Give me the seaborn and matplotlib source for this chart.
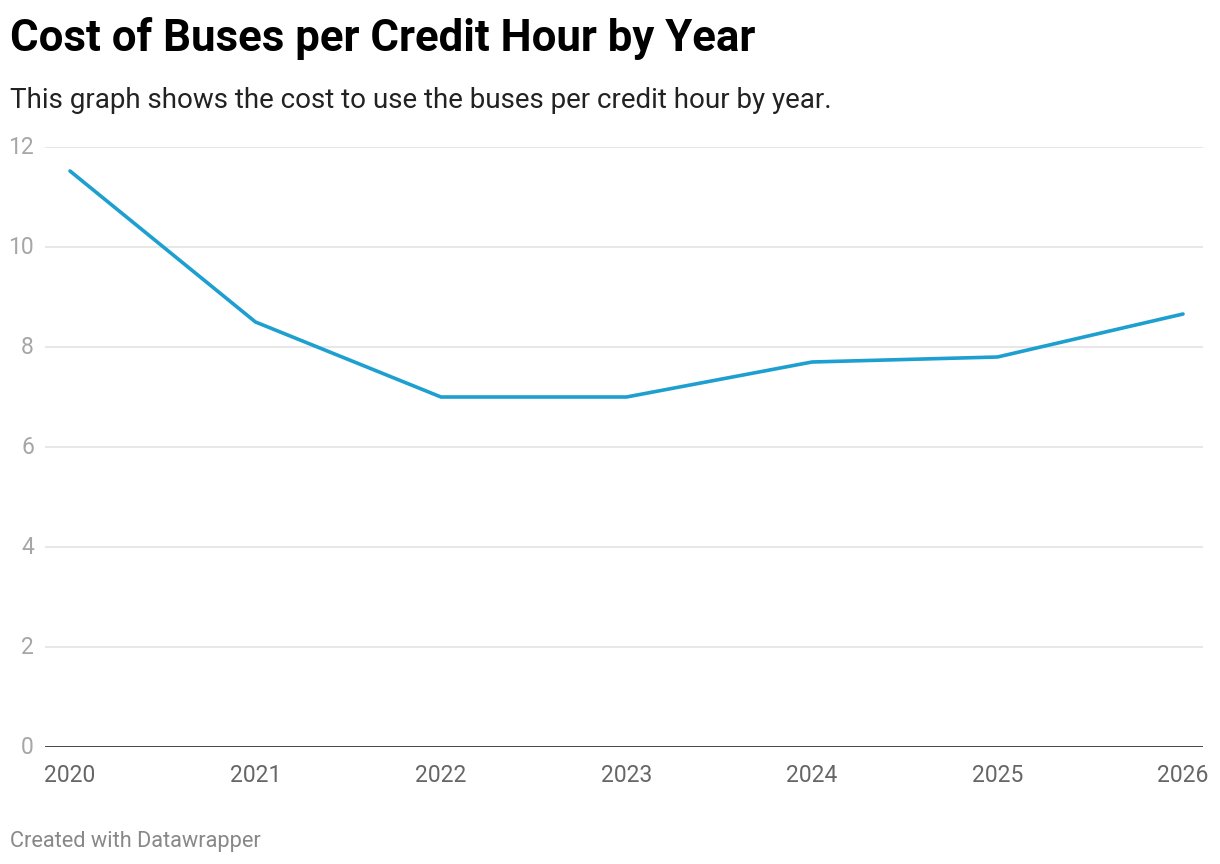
import matplotlib
matplotlib.use("Agg")
import matplotlib.pyplot as plt
import seaborn as sns
import pandas as pd

years = [2020, 2021, 2022, 2023, 2024, 2025, 2026]
cost = [11.52, 8.5, 7.0, 7.0, 7.7, 7.8, 8.66]
yticks = [0, 2, 4, 6, 8, 10, 12]

sns.set_theme(style="white")
plt.rcParams['font.family'] = ['Roboto', 'DejaVu Sans']

df = pd.DataFrame({"year": years, "cost": cost})

fig = plt.figure(figsize=(12.2, 8.64), dpi=100)
W, H = 1220, 864
ax = fig.add_axes([45 / W, 1 - 747 / H, (1203 - 45) / W, (747 - 147) / H])

sns.lineplot(data=df, x="year", y="cost", ax=ax, color="#1d9fcf", linewidth=2.6,
             clip_on=False, solid_capstyle="round", solid_joinstyle="miter")

ax.set_xlim(2020 - 25 / 185.5, 2026 + 20 / 185.5)
ax.set_ylim(0, 12)
ax.set_yticks(yticks)
ax.set_yticklabels([str(v) for v in yticks])
ax.set_xticks(years)
ax.set_xticklabels([str(y) for y in years])
for y in yticks[1:]:
    ax.axhline(y, color="#e3e3e3", linewidth=1.2, zorder=0)
ax.axhline(0, color="#111111", linewidth=1.8, zorder=3)

for s in ax.spines.values():
    s.set_visible(False)
ax.tick_params(axis="y", length=0, pad=8, labelsize=16.5, labelcolor="#a6a6a6")
ax.tick_params(axis="x", length=0, pad=12, labelsize=16.5, labelcolor="#666666")
for lab in ax.get_yticklabels():
    lab.set_verticalalignment("center")
ax.set_xlabel("")
ax.set_ylabel("")
ax.grid(False)

fig.text(10 / W, 1 - 51 / H, "Cost of Buses per Credit Hour by Year", fontsize=31.5,
         fontweight="bold", color="#000000", ha="left", va="baseline")
fig.text(10 / W, 1 - 108 / H, "This graph shows the cost to use the buses per credit hour by year.",
         fontsize=20, color="#222222", ha="left", va="baseline")
fig.text(10 / W, 1 - 847 / H, "Created with Datawrapper", fontsize=15.7,
         color="#888888", ha="left", va="baseline")

fig.savefig("out.png", dpi=100, facecolor="white")
